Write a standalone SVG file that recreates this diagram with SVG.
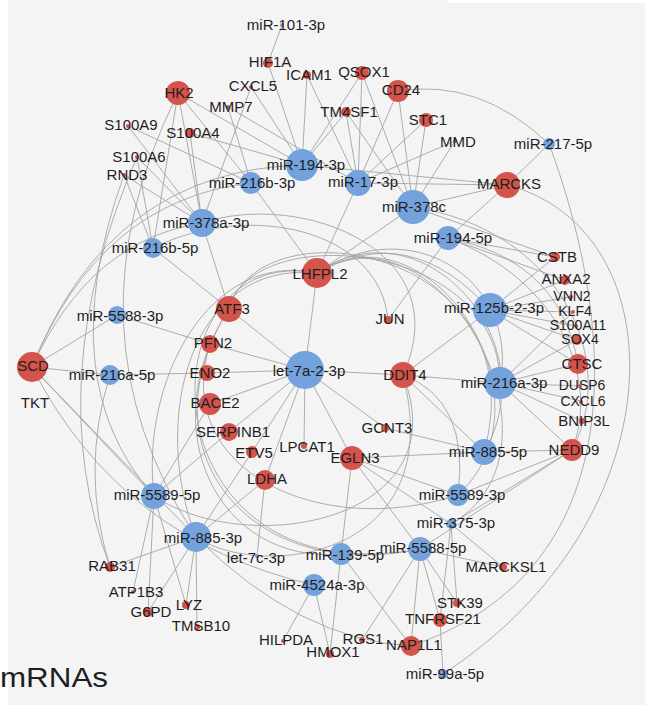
<svg xmlns="http://www.w3.org/2000/svg" width="645" height="705" viewBox="0 0 645 705">
<style>
.e{stroke:#a4a4a4;stroke-width:1;fill:none;opacity:.9}
.r{fill:#d4534b}
.b{fill:#74a2dd}
text{font-family:"Liberation Sans",Arial,sans-serif;font-size:15px;fill:#1e1e1e;text-anchor:middle}
.s{font-size:14px}
</style>
<rect width="645" height="705" fill="#ffffff"/>
<rect x="8" y="0" width="637" height="705" fill="#f4f4f4"/>
<rect x="447" y="0" width="198" height="3" fill="#ffffff"/>
<g id="edges">
<line class="e" x1="282" y1="25" x2="268" y2="63"/>
<line class="e" x1="268" y1="63" x2="302" y2="165"/>
<line class="e" x1="307" y1="75" x2="302" y2="165"/>
<line class="e" x1="307" y1="75" x2="358" y2="183"/>
<line class="e" x1="251" y1="87" x2="302" y2="165"/>
<line class="e" x1="251" y1="87" x2="202" y2="223"/>
<line class="e" x1="228" y1="107" x2="251" y2="183"/>
<line class="e" x1="228" y1="107" x2="358" y2="183"/>
<line class="e" x1="346" y1="112" x2="302" y2="165"/>
<line class="e" x1="346" y1="112" x2="358" y2="183"/>
<line class="e" x1="346" y1="112" x2="413" y2="207"/>
<line class="e" x1="362" y1="73" x2="358" y2="183"/>
<line class="e" x1="362" y1="73" x2="302" y2="165"/>
<line class="e" x1="362" y1="73" x2="413" y2="207"/>
<line class="e" x1="398" y1="91" x2="413" y2="207"/>
<line class="e" x1="398" y1="91" x2="358" y2="183"/>
<line class="e" x1="426" y1="120" x2="358" y2="183"/>
<line class="e" x1="426" y1="120" x2="413" y2="207"/>
<line class="e" x1="455" y1="141" x2="413" y2="207"/>
<line class="e" x1="455" y1="141" x2="358" y2="183"/>
<line class="e" x1="507" y1="185" x2="413" y2="207"/>
<line class="e" x1="507" y1="185" x2="448" y2="238"/>
<line class="e" x1="507" y1="185" x2="549" y2="144"/>
<line class="e" x1="507" y1="185" x2="302" y2="165"/>
<line class="e" x1="507" y1="185" x2="358" y2="183"/>
<line class="e" x1="178" y1="93" x2="302" y2="165"/>
<line class="e" x1="178" y1="93" x2="202" y2="223"/>
<line class="e" x1="178" y1="93" x2="153" y2="248"/>
<line class="e" x1="178" y1="93" x2="251" y2="183"/>
<line class="e" x1="190" y1="133" x2="202" y2="223"/>
<line class="e" x1="190" y1="133" x2="302" y2="165"/>
<line class="e" x1="128" y1="126" x2="202" y2="223"/>
<line class="e" x1="137" y1="157" x2="202" y2="223"/>
<line class="e" x1="137" y1="157" x2="153" y2="248"/>
<line class="e" x1="124" y1="175" x2="202" y2="223"/>
<line class="e" x1="124" y1="175" x2="153" y2="248"/>
<line class="e" x1="128" y1="126" x2="251" y2="183"/>
<line class="e" x1="317" y1="273" x2="251" y2="183"/>
<line class="e" x1="317" y1="273" x2="358" y2="183"/>
<line class="e" x1="317" y1="273" x2="413" y2="207"/>
<line class="e" x1="317" y1="273" x2="305" y2="370"/>
<line class="e" x1="229" y1="309" x2="305" y2="370"/>
<line class="e" x1="229" y1="309" x2="153" y2="248"/>
<line class="e" x1="229" y1="309" x2="202" y2="223"/>
<line class="e" x1="210" y1="344" x2="305" y2="370"/>
<line class="e" x1="210" y1="344" x2="117" y2="315"/>
<line class="e" x1="207" y1="373" x2="305" y2="370"/>
<line class="e" x1="207" y1="373" x2="110" y2="375"/>
<line class="e" x1="210" y1="404" x2="305" y2="370"/>
<line class="e" x1="210" y1="404" x2="154" y2="496"/>
<line class="e" x1="229" y1="432" x2="305" y2="370"/>
<line class="e" x1="229" y1="432" x2="154" y2="496"/>
<line class="e" x1="252" y1="452" x2="305" y2="370"/>
<line class="e" x1="252" y1="452" x2="196" y2="537"/>
<line class="e" x1="265" y1="480" x2="305" y2="370"/>
<line class="e" x1="265" y1="480" x2="257" y2="556"/>
<line class="e" x1="265" y1="480" x2="196" y2="537"/>
<line class="e" x1="304" y1="446" x2="305" y2="370"/>
<line class="e" x1="352" y1="458" x2="305" y2="370"/>
<line class="e" x1="385" y1="428" x2="305" y2="370"/>
<line class="e" x1="403" y1="375" x2="305" y2="370"/>
<line class="e" x1="388" y1="320" x2="448" y2="238"/>
<line class="e" x1="403" y1="375" x2="500" y2="383"/>
<line class="e" x1="403" y1="375" x2="490" y2="310"/>
<line class="e" x1="403" y1="375" x2="484" y2="452"/>
<line class="e" x1="385" y1="428" x2="484" y2="452"/>
<line class="e" x1="555" y1="257" x2="448" y2="238"/>
<line class="e" x1="555" y1="257" x2="490" y2="310"/>
<line class="e" x1="555" y1="257" x2="413" y2="207"/>
<line class="e" x1="565" y1="280" x2="490" y2="310"/>
<line class="e" x1="565" y1="280" x2="448" y2="238"/>
<line class="e" x1="571" y1="297" x2="490" y2="310"/>
<line class="e" x1="573" y1="312" x2="490" y2="310"/>
<line class="e" x1="576" y1="326" x2="490" y2="310"/>
<line class="e" x1="577" y1="340" x2="490" y2="310"/>
<line class="e" x1="577" y1="340" x2="500" y2="383"/>
<line class="e" x1="573" y1="312" x2="500" y2="383"/>
<line class="e" x1="578" y1="364" x2="500" y2="383"/>
<line class="e" x1="578" y1="364" x2="490" y2="310"/>
<line class="e" x1="580" y1="386" x2="500" y2="383"/>
<line class="e" x1="581" y1="401" x2="500" y2="383"/>
<line class="e" x1="582" y1="421" x2="500" y2="383"/>
<line class="e" x1="572" y1="450" x2="500" y2="383"/>
<line class="e" x1="572" y1="450" x2="484" y2="452"/>
<line class="e" x1="572" y1="450" x2="458" y2="495"/>
<line class="e" x1="572" y1="450" x2="451" y2="524"/>
<line class="e" x1="572" y1="450" x2="420" y2="549"/>
<line class="e" x1="352" y1="458" x2="484" y2="452"/>
<line class="e" x1="352" y1="458" x2="458" y2="495"/>
<line class="e" x1="352" y1="458" x2="420" y2="549"/>
<line class="e" x1="352" y1="458" x2="451" y2="524"/>
<line class="e" x1="352" y1="458" x2="341" y2="554"/>
<line class="e" x1="503" y1="567" x2="451" y2="524"/>
<line class="e" x1="503" y1="567" x2="420" y2="549"/>
<line class="e" x1="457" y1="603" x2="451" y2="524"/>
<line class="e" x1="457" y1="603" x2="420" y2="549"/>
<line class="e" x1="440" y1="620" x2="420" y2="549"/>
<line class="e" x1="440" y1="620" x2="451" y2="524"/>
<line class="e" x1="440" y1="620" x2="443" y2="674"/>
<line class="e" x1="411" y1="646" x2="420" y2="549"/>
<line class="e" x1="411" y1="646" x2="341" y2="554"/>
<line class="e" x1="362" y1="640" x2="420" y2="549"/>
<line class="e" x1="330" y1="654" x2="341" y2="554"/>
<line class="e" x1="330" y1="654" x2="314" y2="585"/>
<line class="e" x1="283" y1="641" x2="314" y2="585"/>
<line class="e" x1="110" y1="567" x2="196" y2="537"/>
<line class="e" x1="148" y1="612" x2="196" y2="537"/>
<line class="e" x1="186" y1="605" x2="196" y2="537"/>
<line class="e" x1="197" y1="627" x2="196" y2="537"/>
<line class="e" x1="133" y1="592" x2="154" y2="496"/>
<line class="e" x1="148" y1="612" x2="154" y2="496"/>
<line class="e" x1="186" y1="605" x2="154" y2="496"/>
<line class="e" x1="32" y1="367" x2="110" y2="375"/>
<line class="e" x1="32" y1="367" x2="117" y2="315"/>
<line class="e" x1="32" y1="367" x2="154" y2="496"/>
<line class="e" x1="32" y1="367" x2="196" y2="537"/>
<path class="e" d="M398,91 Q480,78 549,144"/>
<path class="e" d="M549,144 C600,280 660,560 411,646"/>
<path class="e" d="M507,185 C680,230 680,520 443,674"/>
<path class="e" d="M32,367 Q90,240 202,223"/>
<path class="e" d="M32,367 Q110,170 302,165"/>
<path class="e" d="M32,367 Q100,200 251,183"/>
<path class="e" d="M32,367 Q120,540 314,585"/>
<path class="e" d="M178,93 Q60,330 196,537"/>
<path class="e" d="M124,175 Q50,380 154,496"/>
<path class="e" d="M137,157 Q40,380 110,567"/>
<path class="e" d="M110,375 Q80,470 110,567"/>
<path class="e" d="M317,273 C140,240 140,600 420,549"/>
<path class="e" d="M229,309 C150,430 220,565 341,554"/>
<path class="e" d="M229,309 C140,450 250,585 420,549"/>
<path class="e" d="M210,344 C170,470 320,540 458,495"/>
<path class="e" d="M317,273 C190,260 150,420 196,537"/>
<path class="e" d="M317,273 C210,250 140,380 154,496"/>
<path class="e" d="M317,273 Q410,220 490,310"/>
<path class="e" d="M317,273 C410,210 520,280 500,383"/>
<path class="e" d="M317,273 C420,200 550,340 484,452"/>
<path class="e" d="M317,273 C430,200 560,400 458,495"/>
<path class="e" d="M317,273 C440,195 580,450 451,524"/>
<path class="e" d="M202,223 C300,190 460,250 403,375"/>
<path class="e" d="M153,248 C250,200 380,230 388,320"/>
<path class="e" d="M229,309 C260,200 540,250 484,452"/>
<path class="e" d="M229,309 C250,220 500,240 500,383"/>
<path class="e" d="M196,537 Q300,640 411,646"/>
<path class="e" d="M403,375 C460,520 250,560 154,496"/>
<path class="e" d="M403,375 C450,560 260,580 196,537"/>
<path class="e" d="M448,238 C560,280 600,380 572,450"/>
<path class="e" d="M413,207 C560,230 620,360 572,450"/>
<path class="e" d="M448,238 Q560,260 578,364"/>
<path class="e" d="M403,375 Q470,400 458,495"/>
</g>
<g id="n-miR-101-3p"><circle class="b" cx="282" cy="25" r="2"/><text x="286" y="30">miR-101-3p</text></g>
<g id="n-miR-194-3p"><circle class="b" cx="302" cy="165" r="16"/><text x="306" y="170">miR-194-3p</text></g>
<g id="n-miR-17-3p"><circle class="b" cx="358" cy="183" r="13"/><text x="363" y="187">miR-17-3p</text></g>
<g id="n-miR-216b-3p"><circle class="b" cx="251" cy="183" r="11"/><text x="252" y="188">miR-216b-3p</text></g>
<g id="n-miR-378c"><circle class="b" cx="413" cy="207" r="17"/><text x="414" y="212">miR-378c</text></g>
<g id="n-miR-378a-3p"><circle class="b" cx="202" cy="223" r="14"/><text x="206" y="228">miR-378a-3p</text></g>
<g id="n-miR-216b-5p"><circle class="b" cx="153" cy="248" r="10"/><text x="155" y="253">miR-216b-5p</text></g>
<g id="n-miR-194-5p"><circle class="b" cx="448" cy="238" r="12"/><text x="453" y="243">miR-194-5p</text></g>
<g id="n-miR-125b-2-3p"><circle class="b" cx="490" cy="310" r="17"/><text x="494" y="313">miR-125b-2-3p</text></g>
<g id="n-miR-5588-3p"><circle class="b" cx="117" cy="315" r="9"/><text x="120" y="321">miR-5588-3p</text></g>
<g id="n-let-7a-2-3p"><circle class="b" cx="305" cy="370" r="19"/><text x="309" y="376">let-7a-2-3p</text></g>
<g id="n-miR-216a-5p"><circle class="b" cx="110" cy="375" r="10"/><text x="112" y="380">miR-216a-5p</text></g>
<g id="n-miR-216a-3p"><circle class="b" cx="500" cy="383" r="16"/><text x="504" y="388">miR-216a-3p</text></g>
<g id="n-miR-885-5p"><circle class="b" cx="484" cy="452" r="13"/><text x="488" y="457">miR-885-5p</text></g>
<g id="n-miR-5589-5p"><circle class="b" cx="154" cy="496" r="13"/><text x="157" y="500">miR-5589-5p</text></g>
<g id="n-miR-5589-3p"><circle class="b" cx="458" cy="495" r="11"/><text x="462" y="500">miR-5589-3p</text></g>
<g id="n-miR-885-3p"><circle class="b" cx="196" cy="537" r="15"/><text x="203" y="543">miR-885-3p</text></g>
<g id="n-miR-375-3p"><circle class="b" cx="451" cy="524" r="5"/><text x="456" y="528">miR-375-3p</text></g>
<g id="n-miR-5588-5p"><circle class="b" cx="420" cy="549" r="12"/><text x="423" y="553">miR-5588-5p</text></g>
<g id="n-miR-139-5p"><circle class="b" cx="341" cy="554" r="11"/><text x="345" y="560">miR-139-5p</text></g>
<g id="n-miR-4524a-3p"><circle class="b" cx="314" cy="585" r="11"/><text x="317" y="590">miR-4524a-3p</text></g>
<g id="n-miR-217-5p"><circle class="b" cx="549" cy="144" r="6"/><text x="553" y="149">miR-217-5p</text></g>
<g id="n-miR-99a-5p"><circle class="b" cx="443" cy="674" r="5"/><text x="445" y="679">miR-99a-5p</text></g>
<g id="n-let-7c-3p"><circle class="b" cx="257" cy="556" r="2"/><text x="256" y="563">let-7c-3p</text></g>
<g id="n-HK2"><circle class="r" cx="178" cy="93" r="12"/><text x="179" y="98">HK2</text></g>
<g id="n-S100A9"><circle class="r" cx="128" cy="126" r="2"/><text x="131" y="130">S100A9</text></g>
<g id="n-S100A4"><circle class="r" cx="190" cy="133" r="5"/><text x="193" y="138">S100A4</text></g>
<g id="n-S100A6"><circle class="r" cx="137" cy="157" r="2"/><text x="139" y="162">S100A6</text></g>
<g id="n-RND3"><circle class="r" cx="124" cy="175" r="2"/><text x="127" y="180">RND3</text></g>
<g id="n-HIF1A"><circle class="r" cx="268" cy="63" r="5"/><text x="270" y="67">HIF1A</text></g>
<g id="n-CXCL5"><circle class="r" cx="251" cy="87" r="2"/><text x="253" y="91">CXCL5</text></g>
<g id="n-ICAM1"><circle class="r" cx="307" cy="75" r="4"/><text x="309" y="80">ICAM1</text></g>
<g id="n-QSOX1"><circle class="r" cx="362" cy="73" r="7"/><text x="364" y="77">QSOX1</text></g>
<g id="n-CD24"><circle class="r" cx="398" cy="91" r="11"/><text x="401" y="95">CD24</text></g>
<g id="n-MMP7"><circle class="r" cx="228" cy="107" r="2"/><text x="231" y="112">MMP7</text></g>
<g id="n-TM4SF1"><circle class="r" cx="346" cy="112" r="5"/><text x="349" y="117">TM4SF1</text></g>
<g id="n-STC1"><circle class="r" cx="426" cy="120" r="7"/><text x="428" y="125">STC1</text></g>
<g id="n-MMD"><circle class="r" cx="455" cy="141" r="2"/><text x="458" y="147">MMD</text></g>
<g id="n-MARCKS"><circle class="r" cx="507" cy="185" r="13"/><text x="509" y="189">MARCKS</text></g>
<g id="n-LHFPL2"><circle class="r" cx="317" cy="273" r="15"/><text x="320" y="279">LHFPL2</text></g>
<g id="n-ATF3"><circle class="r" cx="229" cy="309" r="13"/><text x="232" y="314">ATF3</text></g>
<g id="n-JUN"><circle class="r" cx="388" cy="320" r="4"/><text x="390" y="324">JUN</text></g>
<g id="n-PFN2"><circle class="r" cx="210" cy="344" r="9"/><text x="213" y="348">PFN2</text></g>
<g id="n-ENO2"><circle class="r" cx="207" cy="373" r="8"/><text x="210" y="378">ENO2</text></g>
<g id="n-BACE2"><circle class="r" cx="210" cy="404" r="11"/><text x="215" y="408">BACE2</text></g>
<g id="n-SERPINB1"><circle class="r" cx="229" cy="432" r="9"/><text x="233" y="437">SERPINB1</text></g>
<g id="n-ETV5"><circle class="r" cx="252" cy="452" r="6"/><text x="254" y="458">ETV5</text></g>
<g id="n-LPCAT1"><circle class="r" cx="304" cy="446" r="3"/><text x="307" y="452">LPCAT1</text></g>
<g id="n-GCNT3"><circle class="r" cx="385" cy="428" r="4"/><text x="387" y="433">GCNT3</text></g>
<g id="n-EGLN3"><circle class="r" cx="352" cy="458" r="12"/><text x="355" y="463">EGLN3</text></g>
<g id="n-LDHA"><circle class="r" cx="265" cy="480" r="10"/><text x="267" y="484">LDHA</text></g>
<g id="n-DDIT4"><circle class="r" cx="403" cy="375" r="13"/><text x="405" y="380">DDIT4</text></g>
<g id="n-SCD"><circle class="r" cx="32" cy="367" r="15"/><text x="33" y="371">SCD</text></g>
<g id="n-TKT"><text x="35" y="408">TKT</text></g>
<g id="n-CSTB"><circle class="r" cx="555" cy="257" r="5"/><text x="557" y="262">CSTB</text></g>
<g id="n-ANXA2"><circle class="r" cx="565" cy="280" r="5"/><text x="566" y="284">ANXA2</text></g>
<g id="n-VNN2"><circle class="r" cx="571" cy="297" r="2"/><text class="s" x="572" y="301">VNN2</text></g>
<g id="n-KLF4"><circle class="r" cx="573" cy="312" r="2"/><text class="s" x="575" y="316">KLF4</text></g>
<g id="n-S100A11"><circle class="r" cx="576" cy="326" r="2"/><text class="s" x="578" y="330">S100A11</text></g>
<g id="n-SOX4"><circle class="r" cx="577" cy="340" r="5"/><text class="s" x="580" y="344">SOX4</text></g>
<g id="n-CTSC"><circle class="r" cx="578" cy="364" r="10"/><text x="582" y="369">CTSC</text></g>
<g id="n-DUSP6"><circle class="r" cx="580" cy="386" r="2"/><text class="s" x="582" y="390">DUSP6</text></g>
<g id="n-CXCL6"><circle class="r" cx="581" cy="402" r="2"/><text class="s" x="583" y="406">CXCL6</text></g>
<g id="n-BNIP3L"><circle class="r" cx="582" cy="421" r="3"/><text x="584" y="426">BNIP3L</text></g>
<g id="n-NEDD9"><circle class="r" cx="572" cy="450" r="11"/><text x="574" y="455">NEDD9</text></g>
<g id="n-MARCKSL1"><circle class="r" cx="503" cy="567" r="4"/><text x="506" y="572">MARCKSL1</text></g>
<g id="n-STK39"><circle class="r" cx="457" cy="603" r="4"/><text x="460" y="608">STK39</text></g>
<g id="n-TNFRSF21"><circle class="r" cx="440" cy="620" r="7"/><text x="443" y="624">TNFRSF21</text></g>
<g id="n-NAP1L1"><circle class="r" cx="411" cy="646" r="10"/><text x="414" y="650">NAP1L1</text></g>
<g id="n-RGS1"><circle class="r" cx="362" cy="640" r="3"/><text x="363" y="644">RGS1</text></g>
<g id="n-HMOX1"><circle class="r" cx="330" cy="654" r="4"/><text x="333" y="657">HMOX1</text></g>
<g id="n-HILPDA"><circle class="r" cx="283" cy="641" r="2"/><text x="286" y="645">HILPDA</text></g>
<g id="n-RAB31"><circle class="r" cx="110" cy="567" r="5"/><text x="112" y="571">RAB31</text></g>
<g id="n-ATP1B3"><circle class="r" cx="133" cy="592" r="2"/><text x="136" y="597">ATP1B3</text></g>
<g id="n-G6PD"><circle class="r" cx="148" cy="612" r="5"/><text x="151" y="617">G6PD</text></g>
<g id="n-LYZ"><circle class="r" cx="186" cy="605" r="4"/><text x="189" y="610">LYZ</text></g>
<g id="n-TMSB10"><circle class="r" cx="197" cy="627" r="3"/><text x="201" y="631">TMSB10</text></g>
<text x="0" y="687" style="font-size:27px;text-anchor:start" textLength="108" lengthAdjust="spacingAndGlyphs">mRNAs</text>
</svg>
